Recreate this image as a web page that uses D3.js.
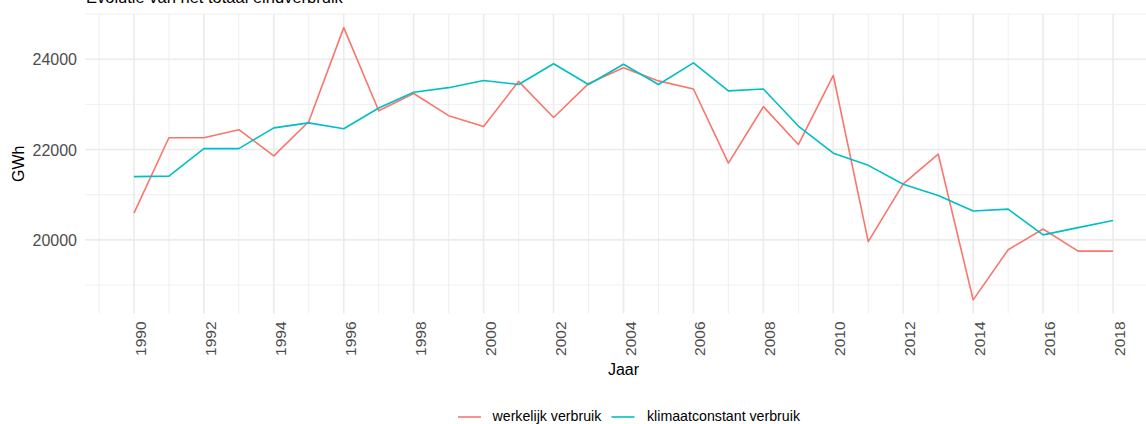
<!DOCTYPE html>
<html>
<head>
<meta charset="utf-8">
<script src="https://cdn.jsdelivr.net/npm/d3@7"></script>
<style>
  html, body { margin: 0; padding: 0; background: #ffffff; overflow: hidden; }
  svg { display: block; font-family: "Liberation Sans", Arial, Helvetica, sans-serif; }
</style>
</head>
<body>
<svg id="chart" width="1146" height="424"></svg>
<script>
const years = d3.range(1990, 2019);
const werkelijk = [20590, 22260, 22260, 22440, 21860, 22620, 24700, 22860, 23240, 22750,
                   22510, 23510, 22710, 23460, 23810, 23520, 23340, 21700, 22950, 22110,
                   23640, 19960, 21240, 21900, 18670, 19780, 20240, 19750, 19750];
const klimaat = [21400, 21410, 22020, 22020, 22480, 22590, 22460, 22920, 23270, 23370,
                 23530, 23440, 23900, 23440, 23890, 23440, 23920, 23300, 23340, 22520,
                 21920, 21650, 21230, 20980, 20640, 20680, 20110, 20270, 20430];
const seriesNames = ["werkelijk verbruik", "klimaatconstant verbruik"];
const seriesColors = ["#F8766D", "#00BFC4"];
const yMajorTicks = [20000, 22000, 24000];
const yMinorTicks = [19000, 21000, 23000, 25000];
const xMajorTicks = d3.range(1990, 2019, 2);
const xMinorTicks = d3.range(1989, 2020, 2);
const titleText = "Evolutie van het totaal eindverbruik";
const xTitle = "Jaar";
const yTitle = "GWh";

const svg = d3.select("#chart");
const panel = { left: 85, right: 1162, top: 14, bottom: 313.5 };

const xExt = d3.extent(years), xPad = (xExt[1] - xExt[0]) * 0.05;
const x = d3.scaleLinear().domain([xExt[0] - xPad, xExt[1] + xPad]).range([panel.left, panel.right]);
const allVals = werkelijk.concat(klimaat);
const yExt = d3.extent(allVals), yPad = (yExt[1] - yExt[0]) * 0.05;
const y = d3.scaleLinear().domain([yExt[0] - yPad, yExt[1] + yPad]).range([panel.bottom, panel.top]);

const grid = svg.append("g");
// minor grid
grid.selectAll(".ymin").data(yMinorTicks.filter(v => y(v) >= panel.top - 1 && y(v) <= panel.bottom)).enter()
  .append("line").attr("x1", panel.left).attr("x2", panel.right)
  .attr("y1", d => y(d)).attr("y2", d => y(d))
  .attr("stroke", "#EBEBEB").attr("stroke-width", 0.8);
grid.selectAll(".xmin").data(xMinorTicks.filter(v => x(v) >= panel.left && x(v) <= panel.right)).enter()
  .append("line").attr("y1", panel.top).attr("y2", panel.bottom)
  .attr("x1", d => x(d)).attr("x2", d => x(d))
  .attr("stroke", "#EBEBEB").attr("stroke-width", 0.8);
// major grid
grid.selectAll(".ymaj").data(yMajorTicks).enter()
  .append("line").attr("x1", panel.left).attr("x2", panel.right)
  .attr("y1", d => y(d)).attr("y2", d => y(d))
  .attr("stroke", "#EBEBEB").attr("stroke-width", 1.6);
grid.selectAll(".xmaj").data(xMajorTicks).enter()
  .append("line").attr("y1", panel.top).attr("y2", panel.bottom)
  .attr("x1", d => x(d)).attr("x2", d => x(d))
  .attr("stroke", "#EBEBEB").attr("stroke-width", 1.6);

// axes (labels only, via d3 axes)
const yAxis = svg.append("g").attr("transform", `translate(${panel.left - 8},0)`)
  .call(d3.axisLeft(y).tickValues(yMajorTicks).tickSize(0).tickPadding(0).tickFormat(d3.format("d")));
yAxis.select(".domain").remove();
yAxis.selectAll("text").attr("fill", "#4D4D4D").style("font-size", "16px")
  .style("font-family", "'Liberation Sans', Arial, sans-serif").attr("dy", "0.36em");

const xAxis = svg.append("g").attr("transform", `translate(0,${panel.bottom})`)
  .call(d3.axisBottom(x).tickValues(xMajorTicks).tickSize(0).tickFormat(d3.format("d")));
xAxis.select(".domain").remove();
xAxis.selectAll("text").attr("fill", "#4D4D4D").style("font-size", "15.5px")
  .style("font-family", "'Liberation Sans', Arial, sans-serif")
  .attr("text-anchor", "end").attr("dy", null).attr("y", 0)
  .attr("transform", "translate(11.5,8) rotate(-90)");

// lines
const line = d3.line().x((d, i) => x(years[i])).y(d => y(d));
[werkelijk, klimaat].forEach((s, k) => {
  svg.append("path").datum(s).attr("d", line).attr("fill", "none")
    .attr("stroke", seriesColors[k]).attr("stroke-width", 1.6).attr("stroke-linejoin", "round");
});

// titles
svg.append("text").attr("x", 86).attr("y", 3).text(titleText)
  .style("font-size", "16.5px").attr("fill", "#000");
svg.append("text").attr("x", (panel.left + panel.right) / 2).attr("y", 375)
  .attr("text-anchor", "middle").style("font-size", "16px").text(xTitle);
svg.append("text").attr("transform", `translate(24,${(panel.top + panel.bottom) / 2}) rotate(-90)`)
  .attr("text-anchor", "middle").style("font-size", "16px").text(yTitle);

// legend
const legendItems = [{x: 458, tx: 492.5}, {x: 611.5, tx: 647}];
legendItems.forEach((it, k) => {
  svg.append("line").attr("x1", it.x).attr("x2", it.x + 23).attr("y1", 417).attr("y2", 417)
    .attr("stroke", seriesColors[k]).attr("stroke-width", 1.6);
  svg.append("text").attr("x", it.tx).attr("y", 420.5)
    .style("font-size", "14.2px").text(seriesNames[k]);
});
</script>
</body>
</html>
